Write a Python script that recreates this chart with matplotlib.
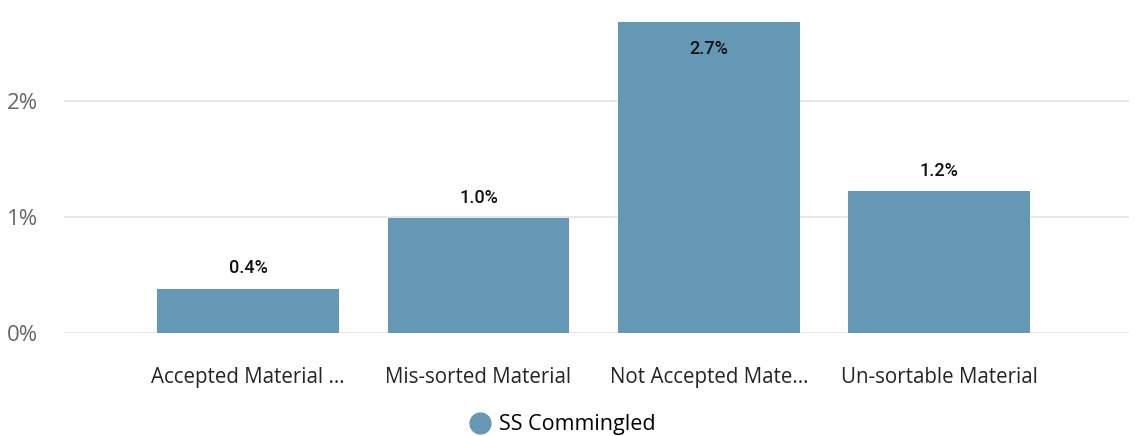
import matplotlib
matplotlib.use("Agg")
import matplotlib.pyplot as plt
from matplotlib.lines import Line2D

categories = ["Accepted Material ...", "Mis-sorted Material", "Not Accepted Mate...", "Un-sortable Material"]
values = [0.38, 0.99, 2.68, 1.22]
labels = ["0.4%", "1.0%", "2.7%", "1.2%"]
series = "SS Commingled"
bar_color = "#6498B4"

fig = plt.figure(figsize=(11.35, 4.36), dpi=100)
ax = fig.add_axes([0.0564, 0.2356, 0.9383, 0.7254])

x = list(range(len(categories)))
ax.bar(x, values, width=0.79, color=bar_color, zorder=2)

# labels go inside the bar when it reaches the top of the plot
for i, (v, lab) in enumerate(zip(values, labels)):
    if v > 2.4:
        ax.text(i, v - 0.155, lab, ha="center", va="top", fontsize=13,
                family="Roboto", weight="medium", color="#111111")
    else:
        ax.text(i, v + 0.1, lab, ha="center", va="bottom", fontsize=13,
                family="Roboto", weight="medium", color="#111111")

ax.set_xlim(-0.8, 3.825)
ax.set_ylim(0, 2.72)
ax.set_yticks([0, 1, 2])
ax.set_yticklabels(["0%", "1%", "2%"], family="Open Sans", fontsize=16, color="#666666")
ax.set_xticks(x)
ax.set_xticklabels(categories, family="Open Sans", fontsize=14.8, color="#252423")
ax.tick_params(axis="y", length=0, pad=19)
ax.tick_params(axis="x", length=0, pad=24)
ax.grid(axis="y", color="#E8E8E8", linewidth=1.5, zorder=0)
for s in ax.spines.values():
    s.set_visible(False)

handle = Line2D([], [], marker="o", linestyle="", markersize=15, color=bar_color)
fig.legend([handle], [series], loc="center", bbox_to_anchor=(0.491, 0.026),
           frameon=False, handletextpad=-0.1, prop={"family": "Open Sans", "size": 15.5})

fig.savefig("out.png", dpi=100)
